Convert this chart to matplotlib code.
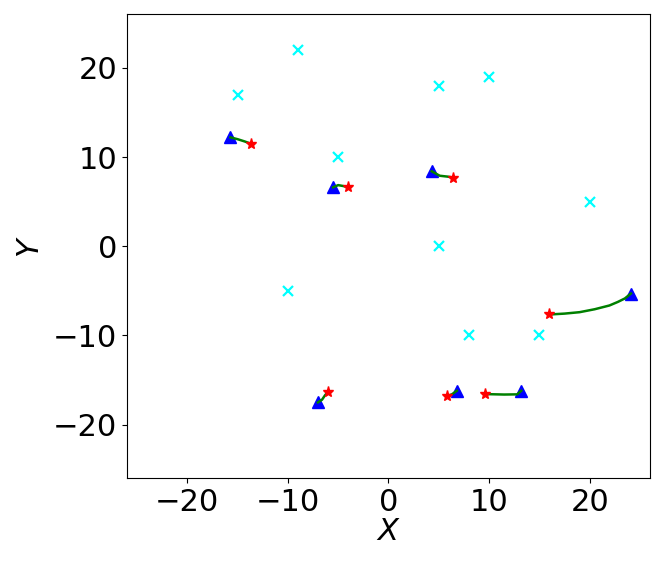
import matplotlib
matplotlib.use("Agg")
import matplotlib.pyplot as plt

# Obstacles / targets (cyan x)
obs_x = [-15, -9, -5, 5, 10, 20, 5, -10, 8, 15]
obs_y = [17, 22, 10, 18, 19, 5, 0, -5, -10, -10]

# Trajectories: each list runs from start (triangle) to end (star)
traj_x = [
    [-15.7, -15.0, -14.3, -13.7],
    [-5.5, -5.0, -4.5, -4.0],
    [4.3, 5.1, 5.9, 6.4],
    [24.1, 23.5, 22.8, 21.96, 20.5, 19.0, 17.5, 16.0],
    [-7.0, -6.6, -6.3, -6.0],
    [6.8, 6.3, 5.8],
    [13.2, 12.8, 11.5, 9.6],
]
traj_y = [
    [12.2, 12.0, 11.75, 11.5],
    [6.6, 6.85, 6.75, 6.6],
    [8.4, 7.9, 7.8, 7.7],
    [-5.3, -5.85, -6.24, -6.64, -7.06, -7.39, -7.55, -7.65],
    [-17.5, -17.2, -16.7, -16.3],
    [-16.2, -16.6, -16.8],
    [-16.2, -16.6, -16.62, -16.57],
]

fig = plt.figure(figsize=(6.64, 5.70), dpi=100)
ax = fig.add_axes([0.191, 0.161, 0.788, 0.814])

ax.plot(obs_x, obs_y, 'x', color='cyan', markersize=7, markeredgewidth=1.6, zorder=2)
for xs, ys in zip(traj_x, traj_y):
    ax.plot(xs[0], ys[0], '^', color='blue', markersize=8, zorder=3)
for xs, ys in zip(traj_x, traj_y):
    ax.plot(xs, ys, '-', color='green', linewidth=1.8, zorder=4)
for xs, ys in zip(traj_x, traj_y):
    ax.plot(xs[-1], ys[-1], '*', color='red', markersize=8, zorder=5)

ax.set_xlim(-26, 26)
ax.set_ylim(-26, 26)
ax.set_xticks([-20, -10, 0, 10, 20])
ax.set_yticks([-20, -10, 0, 10, 20])
ax.tick_params(labelsize=22)
ax.set_xlabel('$X$', fontsize=22, labelpad=0)
ax.set_ylabel('$Y$', fontsize=22, labelpad=6)

fig.savefig('out.png', dpi=100)
